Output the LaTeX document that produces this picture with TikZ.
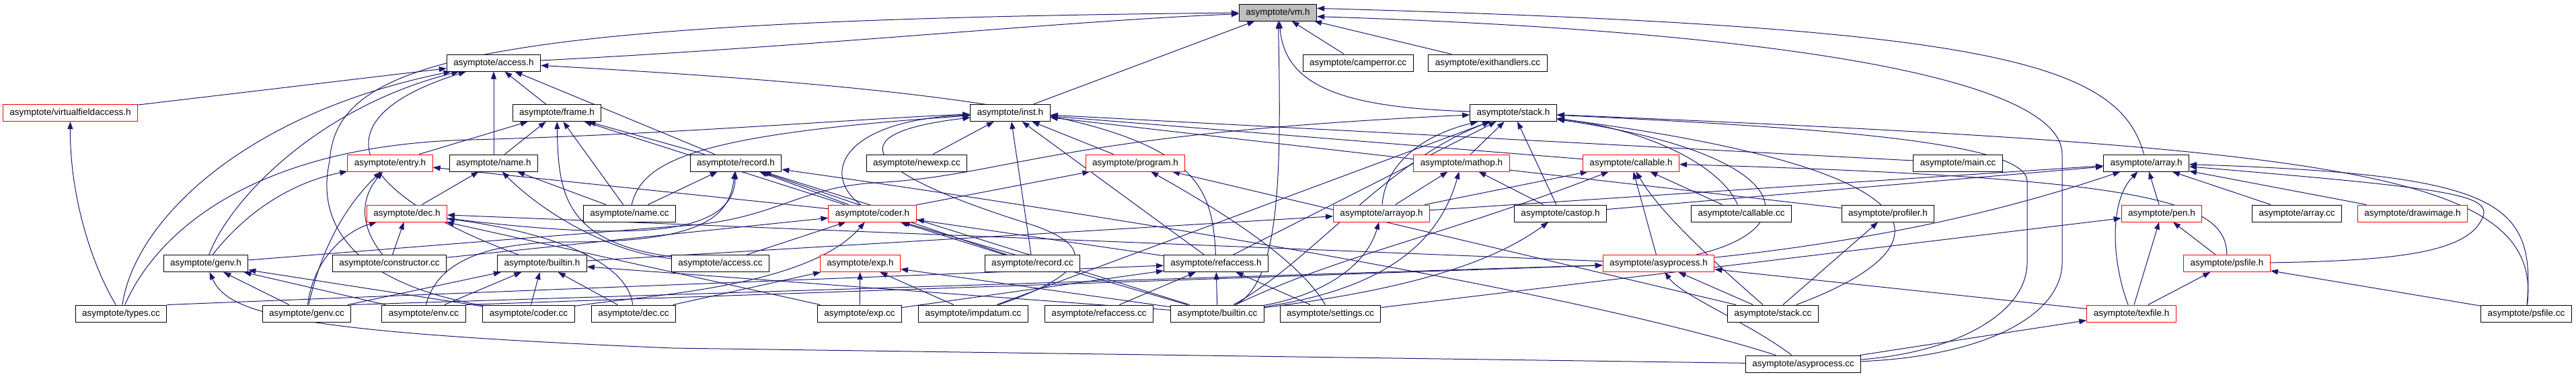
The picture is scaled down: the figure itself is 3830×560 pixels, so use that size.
\documentclass[tikz,border=0pt]{standalone}
\usepackage{fontspec}
\setmainfont{Liberation Sans}
\definecolor{dxblue}{HTML}{191970}
\definecolor{dxgray}{HTML}{BFBFBF}
\definecolor{dxred}{HTML}{FF0000}
\usetikzlibrary{arrows.meta,positioning}
\pgfdeclarelayer{bg}
\pgfsetlayers{bg,main}

\begin{document}
\begin{tikzpicture}[x=1pt, y=-1pt, every node/.style={font=\fontsize{13.5}{16}\selectfont},
  bx/.style={draw=black, line width=1pt, fill=white, inner xsep=10pt, inner ysep=0pt, minimum height=25pt, text height=10pt, text depth=3pt},
  bxred/.style={bx, draw=dxred},
  bxroot/.style={bx, fill=dxgray},
  inc/.style={-{Triangle[length=11pt,width=8pt]}, draw=dxblue, line width=1pt}]
\useasboundingbox (0,0) rectangle (3830,560);
% row 0 and 1
\node[bxroot] (vm) at (1900,18.5) {asymptote/vm.h};
\node[bx] (access) at (734,93.5) {asymptote/access.h};
\node[bx] (camperror) at (2019,93.5) {asymptote/camperror.cc};
\node[bx] (exithandlers) at (2212,93.5) {asymptote/exithandlers.cc};
% row 2
\node[bxred] (virtualfieldaccess) at (104.5,168) {asymptote/virtualfieldaccess.h};
\node[bx] (frame) at (828,168) {asymptote/frame.h};
\node[bx] (inst) at (1502,168) {asymptote/inst.h};
\node[bx] (stack) at (2250,168) {asymptote/stack.h};
% row 3
\node[bxred] (entry) at (580,242.5) {asymptote/entry.h};
\node[bx] (namehdr) at (734,242.5) {asymptote/name.h};
\node[bx] (recordhdr) at (1094,242.5) {asymptote/record.h};
\node[bx] (newexp) at (1363,242.5) {asymptote/newexp.cc};
\node[bxred] (program) at (1688,242.5) {asymptote/program.h};
\node[bxred] (mathop) at (2173,242.5) {asymptote/mathop.h};
\node[bxred] (callablehdr) at (2425,242.5) {asymptote/callable.h};
\node[bx] (maincc) at (2911,242.5) {asymptote/main.cc};
\node[bx] (arrayhdr) at (3191,242.5) {asymptote/array.h};
% row 4
\node[bxred] (dechdr) at (605,317.5) {asymptote/dec.h};
\node[bx] (namecc) at (936,317.5) {asymptote/name.cc};
\node[bxred] (coderhdr) at (1297,317.5) {asymptote/coder.h};
\node[bxred] (arrayop) at (2054,317.5) {asymptote/arrayop.h};
\node[bx] (castop) at (2320,317.5) {asymptote/castop.h};
\node[bx] (callablecc) at (2589,317.5) {asymptote/callable.cc};
\node[bx] (profiler) at (2807,317.5) {asymptote/profiler.h};
\node[bxred] (pen) at (3214,317.5) {asymptote/pen.h};
\node[bx] (arraycc) at (3415,317.5) {asymptote/array.cc};
\node[bxred] (drawimage) at (3587,317.5) {asymptote/drawimage.h};
% row 5
\node[bx] (genvhdr) at (306,392) {asymptote/genv.h};
\node[bx] (constructor) at (579,392) {asymptote/constructor.cc};
\node[bx] (builtinhdr) at (806,392) {asymptote/builtin.h};
\node[bx] (accesscc) at (1071,392) {asymptote/access.cc};
\node[bxred] (exphdr) at (1279,392) {asymptote/exp.h};
\node[bx] (recordcc) at (1535,392) {asymptote/record.cc};
\node[bx] (refaccesshdr) at (1808,392) {asymptote/refaccess.h};
\node[bxred] (asyprocesshdr) at (2466,392) {asymptote/asyprocess.h};
\node[bxred] (psfilehdr) at (3311,392) {asymptote/psfile.h};
% row 6
\node[bx] (typescc) at (180,466.5) {asymptote/types.cc};
\node[bx] (genvcc) at (456,466.5) {asymptote/genv.cc};
\node[bx] (envcc) at (630,466.5) {asymptote/env.cc};
\node[bx] (codercc) at (786,466.5) {asymptote/coder.cc};
\node[bx] (deccc) at (942,466.5) {asymptote/dec.cc};
\node[bx] (expcc) at (1278,466.5) {asymptote/exp.cc};
\node[bx] (impdatum) at (1447,466.5) {asymptote/impdatum.cc};
\node[bx] (refaccesscc) at (1634,466.5) {asymptote/refaccess.cc};
\node[bx] (builtincc) at (1810,466.5) {asymptote/builtin.cc};
\node[bx] (settingscc) at (1978,466.5) {asymptote/settings.cc};
\node[bx] (stackcc) at (2636,466.5) {asymptote/stack.cc};
\node[bxred] (texfile) at (3169,466.5) {asymptote/texfile.h};
\node[bx] (psfilecc) at (3756,466.5) {asymptote/psfile.cc};
\node[bx] (asyprocesscc) at (2681,541.5) {asymptote/asyprocess.cc};

\begin{pgfonlayer}{bg}
% into vm.h
\draw[inc] (access) .. controls (1200,70) and (1600,30) .. (vm);
\draw[inc] (codercc) .. controls (520,420) and (470,330) .. (490,240) .. controls (500,90) and (700,30) .. (vm);
\draw[inc] (inst) -- (vm);
\draw[inc] (builtincc) .. controls (1905,420) and (1905,250) .. (vm.-88);
\draw[inc] (stack) .. controls (2000,160) and (1910,130) .. (vm.-80);
\draw[inc] (camperror) -- (vm);
\draw[inc] (exithandlers) -- (vm);
\draw[inc] (arrayhdr) .. controls (3150,90) and (2950,40) .. (vm.6);
\draw[inc] (asyprocesscc) .. controls (2950,530) and (3066,470) .. (3066,390) -- (3066,230) .. controls (3066,110) and (2600,45) .. (vm.-6);
% into access.h
\draw[inc] (virtualfieldaccess) -- (access);
\draw[inc] (typescc) .. controls (200,330) and (360,170) .. (access);
\draw[inc] (genvhdr) .. controls (340,300) and (470,160) .. (access);
\draw[inc] (builtinhdr) .. controls (530,290) and (460,180) .. (access);
\draw[inc] (namehdr) -- (access);
\draw[inc] (frame) -- (access);
\draw[inc] (recordhdr) -- (access);
\draw[inc] (refaccesshdr) .. controls (1800,220) and (1750,150) .. (access);
% into frame.h
\draw[inc] (entry) -- (frame);
\draw[inc] (namehdr) -- (frame);
\draw[inc] (accesscc) .. controls (840,360) and (830,290) .. (frame);
\draw[inc] (namecc) -- (frame);
\draw[inc] (coderhdr) -- (frame);
\draw[inc] (recordhdr) -- (frame);
% into entry.h
\draw[inc] (genvhdr) .. controls (370,310) and (440,270) .. (entry);
\draw[inc] (constructor) .. controls (530,330) and (540,290) .. (entry);
\draw[inc] (genvcc) .. controls (480,360) and (520,300) .. (entry);
\draw[inc] (coderhdr) -- (entry);
% into name.h
\draw[inc] (dechdr) -- (namehdr);
\draw[inc] (namecc) -- (namehdr);
\draw[inc] (accesscc) .. controls (900,375) and (800,310) .. (namehdr);
% into dec.h
\draw[inc] (genvcc) .. controls (465,390) and (510,345) .. (dechdr);
\draw[inc] (constructor) -- (dechdr);
\draw[inc] (deccc) .. controls (935,400) and (850,350) .. (dechdr);
\draw[inc] (asyprocesshdr) -- (dechdr);
\draw[inc] (expcc) -- (dechdr);
% into genv.h
\draw[inc] (genvcc) -- (genvhdr);
\draw[inc] (envcc) -- (genvhdr);
\draw[inc] (codercc) -- (genvhdr);
\draw[inc] (asyprocesscc) -- (1000,518) .. controls (450,495) and (340,470) .. (genvhdr);
% into builtin.h
\draw[inc] (genvcc) -- (builtinhdr);
\draw[inc] (envcc) -- (builtinhdr);
\draw[inc] (codercc) -- (builtinhdr);
\draw[inc] (deccc) -- (builtinhdr);
\draw[inc] (builtincc) -- (builtinhdr);
% into record.h
\draw[inc] (namecc) -- (recordhdr);
\draw[inc] (envcc) .. controls (650,390) and (720,360) .. (850,360) .. controls (1050,360) and (1085,320) .. (recordhdr);
\draw[inc] (dechdr) .. controls (950,360) and (1090,350) .. (recordhdr);
\draw[inc] (coderhdr) -- (recordhdr);
\draw[inc] (builtincc) -- (recordhdr);
\draw[inc] (recordcc) -- (recordhdr);
\draw[inc] (asyprocesscc) .. controls (2300,420) and (1500,300) .. (recordhdr);
% into inst.h
\draw[inc] (typescc) .. controls (240,330) and (400,215) .. (700,208) .. controls (1000,200) and (1300,175) .. (inst);
\draw[inc] (namecc) .. controls (955,240) and (1030,200) .. (inst);
\draw[inc] (coderhdr) .. controls (1220,260) and (1250,180) .. (inst);
\draw[inc] (impdatum) .. controls (1640,400) and (1620,360) .. (1520,330) .. controls (1300,260) and (1230,200) .. (inst);
\draw[inc] (newexp) -- (inst);
\draw[inc] (recordcc) -- (inst);
\draw[inc] (refaccesshdr) -- (inst);
\draw[inc] (program) -- (inst);
\draw[inc] (callablehdr) -- (inst);
\draw[inc] (profiler) -- (inst);
\draw[inc] (maincc) -- (inst);
% into program.h
\draw[inc] (coderhdr) -- (program);
\draw[inc] (stackcc) -- (program);
\draw[inc] (settingscc) .. controls (1945,410) and (1880,350) .. (program);
% into coder.h
\draw[inc] (constructor) -- (coderhdr);
\draw[inc] (codercc) .. controls (950,440) and (1200,430) .. (coderhdr);
\draw[inc] (accesscc) -- (coderhdr);
\draw[inc] (builtincc) -- (coderhdr);
\draw[inc] (recordcc) -- (coderhdr);
\draw[inc] (refaccesshdr) -- (coderhdr);
% into exp.h
\draw[inc] (expcc) -- (exphdr);
\draw[inc] (impdatum) -- (exphdr);
\draw[inc] (deccc) -- (exphdr);
\draw[inc] (builtincc) -- (exphdr);
% into refaccess.h
\draw[inc] (expcc) -- (refaccesshdr);
\draw[inc] (refaccesscc) -- (refaccesshdr);
\draw[inc] (builtincc) -- (refaccesshdr);
\draw[inc] (settingscc) -- (refaccesshdr);
\draw[inc] (typescc.north east) -- (refaccesshdr);
% into stack.h
\draw[inc] (genvhdr) -- (1000,337) .. controls (1150,330) and (1180,280) .. (1300,272) .. controls (1500,262) and (1560,200) .. (stack);
\draw[inc] (refaccesshdr) -- (stack);
\draw[inc] (impdatum) -- (stack);
\draw[inc] (builtincc) .. controls (1950,390) and (2060,240) .. (stack);
\draw[inc] (arrayop) .. controls (2060,240) and (2120,200) .. (stack);
\draw[inc] (mathop) -- (stack);
\draw[inc] (castop) -- (stack);
\draw[inc] (callablecc) .. controls (2560,250) and (2460,195) .. (stack);
\draw[inc] (asyprocesshdr) .. controls (2690,340) and (2670,230) .. (stack);
\draw[inc] (psfilecc) .. controls (3780,260) and (3500,220) .. (stack);
\draw[inc] (asyprocesscc) .. controls (2900,525) and (3014,470) .. (3014,390) -- (3014,270) .. controls (3014,210) and (2700,190) .. (stack);
\draw[inc] (stackcc) .. controls (2920,360) and (2880,250) .. (stack);
% into mathop.h, arrayop.h, castop.h
\draw[inc] (arrayop) -- (mathop);
\draw[inc] (builtincc) .. controls (2060,430) and (2140,360) .. (mathop);
\draw[inc] (castop) -- (mathop);
\draw[inc] (builtinhdr) -- (arrayop);
\draw[inc] (builtincc) .. controls (1960,440) and (2030,400) .. (arrayop);
\draw[inc] (builtincc) .. controls (2100,430) and (2220,390) .. (castop);
% into callable.h
\draw[inc] (arrayop) -- (callablehdr);
\draw[inc] (builtincc) .. controls (1990,380) and (2150,350) .. (callablehdr);
\draw[inc] (asyprocesshdr) -- (callablehdr);
\draw[inc] (stackcc) .. controls (2560,400) and (2470,320) .. (callablehdr);
\draw[inc] (callablecc) -- (callablehdr);
\draw[inc] (psfilehdr) .. controls (3310,300) and (3200,265) .. (callablehdr);
\draw[inc] (stackcc) -- (profiler);
% into array.h
\draw[inc] (arrayop) -- (arrayhdr);
\draw[inc] (castop) -- (arrayhdr);
\draw[inc] (asyprocesshdr) .. controls (2860,350) and (3050,290) .. (arrayhdr);
\draw[inc] (texfile) .. controls (3140,390) and (3135,300) .. (arrayhdr);
\draw[inc] (pen) -- (arrayhdr);
\draw[inc] (arraycc) -- (arrayhdr);
\draw[inc] (drawimage) -- (arrayhdr);
\draw[inc] (psfilehdr) .. controls (3550,388) and (3660,378) .. (3688,330) .. controls (3712,290) and (3660,282) .. (arrayhdr);
\draw[inc] (psfilecc) .. controls (3770,300) and (3720,260) .. (arrayhdr);
% pen.h, psfile.h, texfile.h
\draw[inc] (psfilehdr) -- (pen);
\draw[inc] (texfile) -- (pen);
\draw[inc] (settingscc) -- (pen);
\draw[inc] (texfile) -- (psfilehdr);
\draw[inc] (psfilecc) -- (psfilehdr);
\draw[inc] (asyprocesscc) -- (texfile);
% into asyprocess.h
\draw[inc] (texfile) -- (asyprocesshdr);
\draw[inc] (stackcc) -- (asyprocesshdr);
\draw[inc] (asyprocesscc) .. controls (2600,480) and (2500,440) .. (asyprocesshdr);
\draw[inc] (genvcc.north east) -- (asyprocesshdr);
\draw[inc] (envcc.north east) -- (asyprocesshdr);
% types.cc
\draw[inc] (typescc) .. controls (140,400) and (104,300) .. (virtualfieldaccess);
\end{pgfonlayer}
\end{tikzpicture}
\end{document}
